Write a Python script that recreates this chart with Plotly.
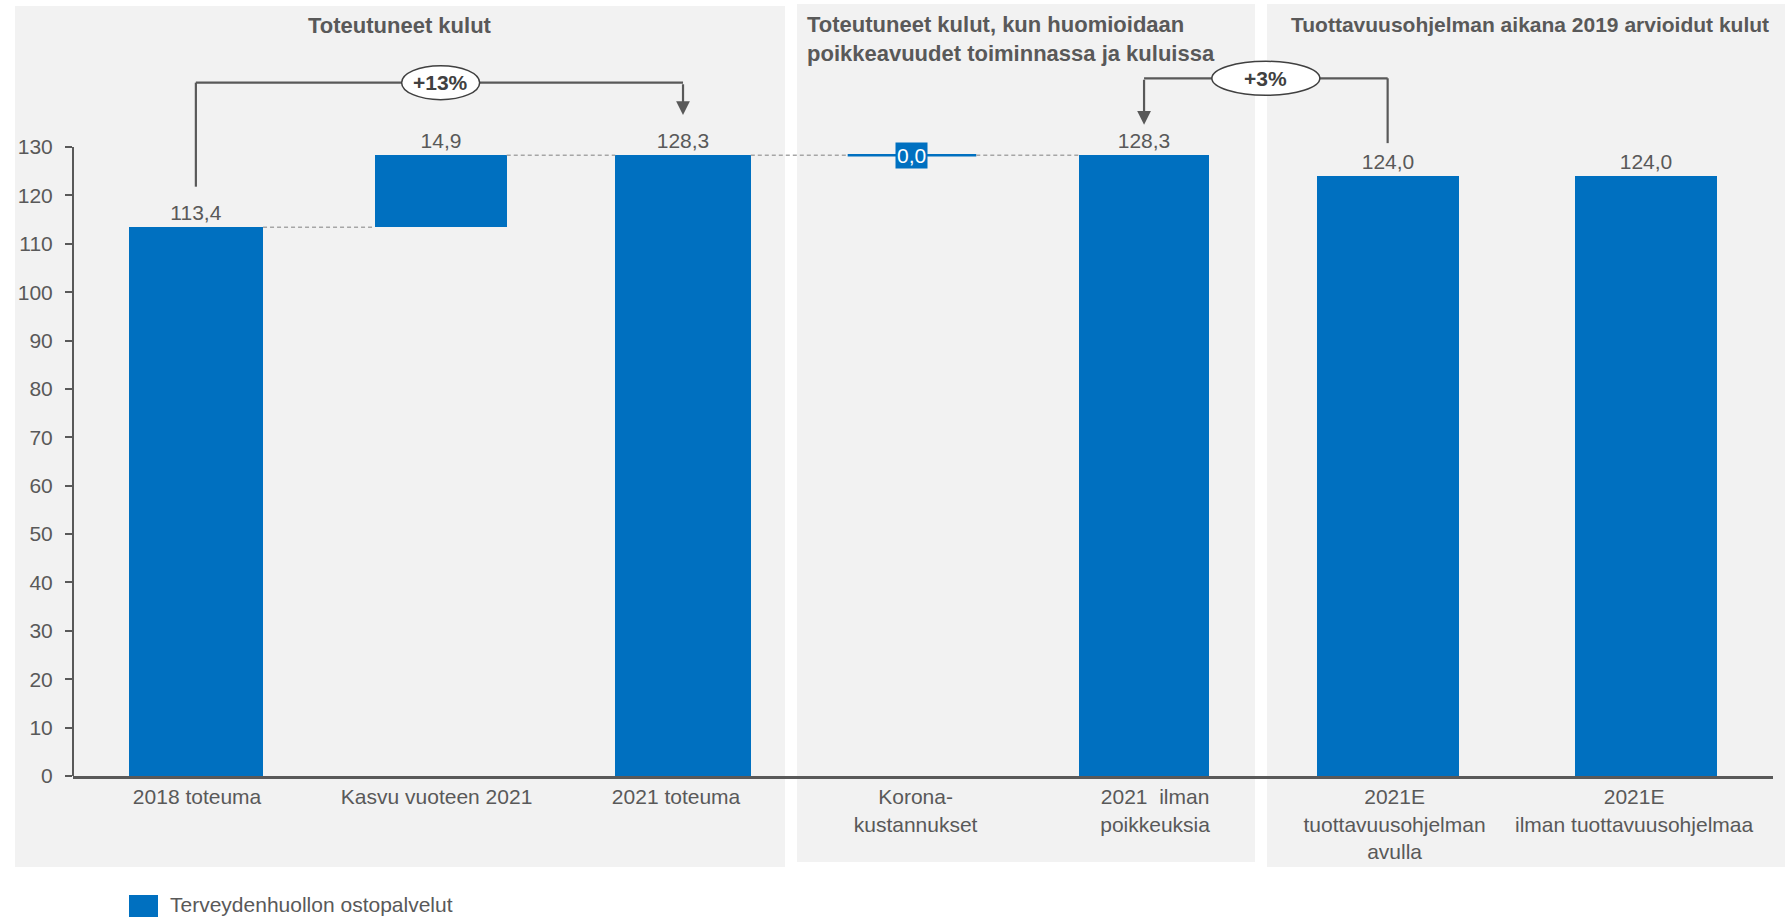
import plotly.graph_objects as go

# ---------------- data ----------------
categories = [
    "2018 toteuma",
    "Kasvu vuoteen 2021",
    "2021 toteuma",
    "Korona-<br>kustannukset",
    "2021  ilman<br>poikkeuksia",
    "2021E<br>tuottavuusohjelman<br>avulla",
    "2021E<br>ilman tuottavuusohjelmaa",
]
values = [113.4, 14.9, 128.3, 0.0, 128.3, 124.0, 124.0]
measures = ["absolute", "relative", "total", "relative", "total", "absolute", "absolute"]
series_name = "Terveydenhuollon ostopalvelut"
y_ticks = [0, 10, 20, 30, 40, 50, 60, 70, 80, 90, 100, 110, 120, 130]
panel_titles = [
    "Toteutuneet kulut",
    "Toteutuneet kulut, kun huomioidaan<br>poikkeavuudet toiminnassa ja kuluissa",
    "Tuottavuusohjelman aikana 2019 arvioidut kulut",
]
change_labels = ["+13%", "+3%"]

# ---------------- styles / layout constants ----------------
W, H = 1785, 917
BLUE = "#0070C0"
GREY_TXT = "#595959"
PANEL = "#F2F2F2"
FONT = "Liberation Sans, Arial, sans-serif"
FS = 21

# per-bar width and small centre nudges (in category units)
BAR_WIDTHS = [0.561, 0.552, 0.566, 0.537, 0.542, 0.594, 0.590]
BAR_SHIFT = [-0.005, 0.017, 0.029, -0.015, -0.046, -0.029, 0.050]

X_LEFT_PX, X_RIGHT_PX = 73, 1773
Y0_PX, Y130_PX = 776, 147
PPU = (Y0_PX - Y130_PX) / 130.0
Y_TOP = Y0_PX / PPU


def px(x):
    return x / W


def py(y):
    return 1 - y / H


def fmt(v):
    return f"{v:.1f}".replace(".", ",")


# waterfall bookkeeping
bases, heights, levels = [], [], []
running = 0.0
for v, m in zip(values, measures):
    if m == "absolute":
        bases.append(0.0)
        heights.append(v)
        running = v
    elif m == "relative":
        bases.append(running)
        heights.append(v)
        running += v
    else:
        bases.append(0.0)
        heights.append(running)
    levels.append(running)

texts = [fmt(v) if h != 0 else "" for v, h in zip(values, heights)]
centres = [i + s for i, s in enumerate(BAR_SHIFT)]
offsets = [s - w / 2 for s, w in zip(BAR_SHIFT, BAR_WIDTHS)]

fig = go.Figure()
fig.add_trace(go.Bar(
    x=categories, y=heights, base=bases, width=BAR_WIDTHS, offset=offsets,
    marker=dict(color=BLUE, line=dict(width=0)),
    text=texts, textposition="outside", cliponaxis=False,
    textfont=dict(size=FS, color=GREY_TXT, family=FONT),
    name=series_name, showlegend=False, hoverinfo="skip",
))

shapes = []
annotations = []

# panel backgrounds
panels = [(15, 6, 785, 867), (797, 4, 1255, 862), (1267, 4, 1785, 867)]
for x0, y0, x1, y1 in panels:
    shapes.append(dict(type="rect", xref="paper", yref="paper",
                       x0=px(x0), x1=px(x1), y0=py(y1), y1=py(y0),
                       fillcolor=PANEL, line=dict(width=0), layer="below"))

# y axis line (0..130)
shapes.append(dict(type="line", xref="paper", yref="y",
                   x0=px(X_LEFT_PX), x1=px(X_LEFT_PX), y0=0, y1=y_ticks[-1],
                   line=dict(color=GREY_TXT, width=2)))

# zero-change bar (Korona) drawn as a thin line at its level
for i, h in enumerate(heights):
    if h == 0:
        c, w = centres[i], BAR_WIDTHS[i]
        shapes.append(dict(type="line", xref="x", yref="y",
                           x0=c - w / 2, x1=c + w / 2,
                           y0=levels[i], y1=levels[i],
                           line=dict(color=BLUE, width=2.5)))
        annotations.append(dict(x=c, y=levels[i], xref="x", yref="y",
                                text=fmt(values[i]), showarrow=False,
                                bgcolor=BLUE, borderpad=1,
                                font=dict(size=FS, color="white", family=FONT)))

# connectors (first five categories)
for i in range(4):
    shapes.append(dict(type="line", xref="x", yref="y",
                       x0=centres[i] + BAR_WIDTHS[i] / 2,
                       x1=centres[i + 1] - BAR_WIDTHS[i + 1] / 2,
                       y0=levels[i], y1=levels[i],
                       line=dict(color="#A6A6A6", width=1.5, dash="4px,3px")))

LINE_C = "#595959"
# bracket +13%  (from category 0 to category 2)
yb1 = 143.3
c0, c2 = centres[0], centres[2]
shapes.append(dict(type="line", xref="x", yref="y", x0=c0, x1=c0, y0=121.8, y1=yb1,
                   line=dict(color=LINE_C, width=2.2)))
shapes.append(dict(type="line", xref="x", yref="y", x0=c0, x1=c2, y0=yb1, y1=yb1,
                   line=dict(color=LINE_C, width=2.2)))
annotations.append(dict(x=c2, y=136.6, ax=c2, ay=yb1, xref="x", yref="y",
                        axref="x", ayref="y", text="", showarrow=True,
                        arrowhead=2, arrowsize=1.25, arrowwidth=2.2,
                        arrowcolor=LINE_C, standoff=0))
# bracket +3%  (from category 5 to category 4)
yb2 = 144.2
c4, c5 = centres[4], centres[5]
shapes.append(dict(type="line", xref="x", yref="y", x0=c5, x1=c5, y0=130.8, y1=yb2,
                   line=dict(color=LINE_C, width=2.2)))
shapes.append(dict(type="line", xref="x", yref="y", x0=c4, x1=c5, y0=yb2, y1=yb2,
                   line=dict(color=LINE_C, width=2.2)))
annotations.append(dict(x=c4, y=134.6, ax=c4, ay=yb2, xref="x", yref="y",
                        axref="x", ayref="y", text="", showarrow=True,
                        arrowhead=2, arrowsize=1.25, arrowwidth=2.2,
                        arrowcolor=LINE_C, standoff=0))

# ellipses with change labels
for xa, ya, wpx, lab in [(centres[1], yb1, 78, change_labels[0]),
                         ((c4 + c5) / 2, yb2, 108, change_labels[1])]:
    shapes.append(dict(type="circle", xref="x", yref="y",
                       xsizemode="pixel", ysizemode="pixel",
                       xanchor=xa, yanchor=ya,
                       x0=-wpx / 2, x1=wpx / 2, y0=-17, y1=17,
                       fillcolor="white", line=dict(color="#404040", width=1.5)))
    annotations.append(dict(x=xa, y=ya, xref="x", yref="y", text=f"<b>{lab}</b>",
                            showarrow=False,
                            font=dict(size=FS, color="#404040", family=FONT)))

# panel titles
annotations.append(dict(x=px(400), y=py(26), xref="paper", yref="paper",
                        text=f"<b>{panel_titles[0]}</b>", showarrow=False,
                        xanchor="center", yanchor="middle",
                        font=dict(size=22, color=GREY_TXT, family=FONT)))
annotations.append(dict(x=px(805), y=py(10), xref="paper", yref="paper",
                        text="<b>" + panel_titles[1].replace("<br>", "</b><br><b>") + "</b>",
                        showarrow=False, align="left",
                        xanchor="left", yanchor="top",
                        font=dict(size=22, color=GREY_TXT, family=FONT)))
annotations.append(dict(x=px(1289), y=py(25), xref="paper", yref="paper",
                        text=f"<b>{panel_titles[2]}</b>", showarrow=False,
                        xanchor="left", yanchor="middle",
                        font=dict(size=21, color=GREY_TXT, family=FONT)))

# legend (manual)
shapes.append(dict(type="rect", xref="paper", yref="paper",
                   x0=px(129), x1=px(158), y0=py(917), y1=py(895),
                   fillcolor=BLUE, line=dict(width=0)))
annotations.append(dict(x=px(168), y=py(904), xref="paper", yref="paper",
                        text=series_name, showarrow=False,
                        xanchor="left", yanchor="middle",
                        font=dict(size=FS, color=GREY_TXT, family=FONT)))

# category range so that bar centres line up
x_min = -0.518
x_max = 6.58

fig.update_layout(
    width=W, height=H,
    margin=dict(l=0, r=0, t=0, b=0, autoexpand=False),
    paper_bgcolor="white", plot_bgcolor="rgba(0,0,0,0)",
    separators=",.",
    font=dict(family=FONT, size=FS, color=GREY_TXT),
    showlegend=False,
    xaxis=dict(type="category", domain=[px(X_LEFT_PX), px(X_RIGHT_PX)],
               range=[x_min, x_max], showgrid=False, zeroline=False,
               showline=True, linecolor=GREY_TXT, linewidth=3, ticks="",
               tickfont=dict(size=FS, color=GREY_TXT, family=FONT),
               automargin=False, fixedrange=True),
    yaxis=dict(domain=[1 - Y0_PX / H, 1], range=[0, Y_TOP],
               tickvals=y_ticks, ticktext=[str(t) for t in y_ticks],
               showgrid=False, zeroline=False, showline=False,
               ticks="outside", ticklen=7, tickwidth=2, tickcolor=GREY_TXT,
               ticklabelstandoff=8,
               tickfont=dict(size=FS, color=GREY_TXT, family=FONT),
               automargin=False, fixedrange=True),
    shapes=shapes, annotations=annotations,
    bargap=0,
)

fig.write_html("out.html")
